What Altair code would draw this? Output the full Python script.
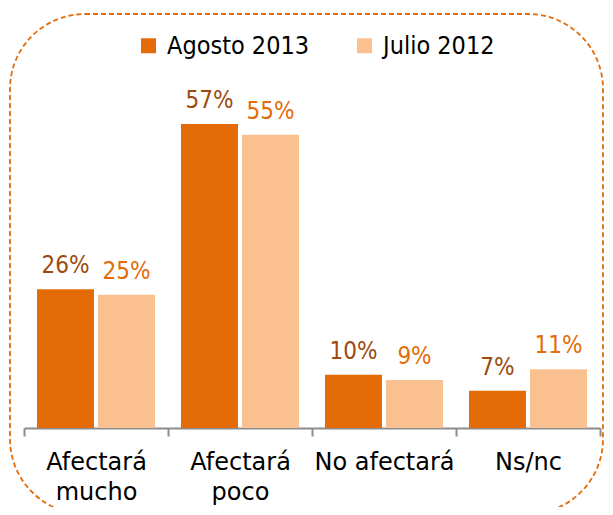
import altair as alt
import pandas as pd

categories = ["Afectará\nmucho", "Afectará\npoco", "No afectará", "Ns/nc"]
series = ["Agosto 2013", "Julio 2012"]
agosto_2013 = [26, 57, 10, 7]
julio_2012 = [25, 55, 9, 11]
bar_colors = ["#E36C09", "#FAC090"]
label_colors = ["#9C4A10", "#E36C09"]

rows = []
for i, c in enumerate(categories):
    rows.append({"cat": c, "serie": series[0], "val": agosto_2013[i], "txt": f"{agosto_2013[i]}%"})
    rows.append({"cat": c, "serie": series[1], "val": julio_2012[i], "txt": f"{julio_2012[i]}%"})
df = pd.DataFrame(rows)

FONT_C = "DejaVu Sans Condensed"
FONT = "DejaVu Sans"

x_enc = alt.X(
    "cat:N",
    sort=categories,
    scale=alt.Scale(paddingInner=0, paddingOuter=0),
    axis=alt.Axis(
        title=None,
        labelAngle=0,
        labelFont=FONT,
        labelFontSize=24,
        labelColor="#000000",
        labelLineHeight=30,
        labelPadding=14,
        labelExpr="split(datum.label, '\\n')",
        tickBand="extent",
        tickSize=8,
        tickWidth=2,
        tickColor="#8C8C8C",
        domainColor="#8C8C8C",
        domainWidth=2,
        grid=False,
    ),
)
xo_enc = alt.XOffset(
    "serie:N",
    sort=series,
    scale=alt.Scale(paddingInner=0.0656, paddingOuter=0.213),
)
y_enc = alt.Y("val:Q", scale=alt.Scale(domain=[0, 60]), axis=None)

bars = alt.Chart(df).mark_bar().encode(
    x=x_enc,
    xOffset=xo_enc,
    y=y_enc,
    color=alt.Color(
        "serie:N",
        sort=series,
        scale=alt.Scale(domain=series, range=bar_colors),
        legend=alt.Legend(
            title=None,
            orient="none",
            legendX=112,
            legendY=-75,
            direction="horizontal",
            symbolType="square",
            symbolSize=225,
            symbolStrokeWidth=0,
            symbolOpacity=1,
            labelFont=FONT_C,
            labelFontSize=25,
            labelColor="#000000",
            labelOffset=6,
            columnPadding=42,
        ),
    ),
)

labels = alt.Chart(df).mark_text(
    font=FONT_C, fontSize=24, baseline="alphabetic", dy=-16
).encode(
    x=x_enc,
    xOffset=xo_enc,
    y=y_enc,
    text="txt:N",
    fill=alt.Fill("serie:N", sort=series,
                  scale=alt.Scale(domain=series, range=label_colors), legend=None),
)

frame = alt.Chart(pd.DataFrame({"f": [0]})).mark_rect(
    filled=False,
    stroke="#E36C09",
    strokeWidth=1.8,
    strokeDash=[5, 3],
    cornerRadius=75,
).encode(
    x=alt.value(-14), x2=alt.value(579), y=alt.value(-94), y2=alt.value(406)
)

chart = alt.layer(frame, bars, labels).resolve_scale(fill="independent").properties(
    width=576,
    height=320,
    autosize=alt.AutoSizeParams(type="none"),
    padding={"left": 16, "top": 100, "right": 5, "bottom": 79},
).configure_view(stroke=None)

chart.save("out.html", embed_options={"renderer": "svg", "actions": False})
